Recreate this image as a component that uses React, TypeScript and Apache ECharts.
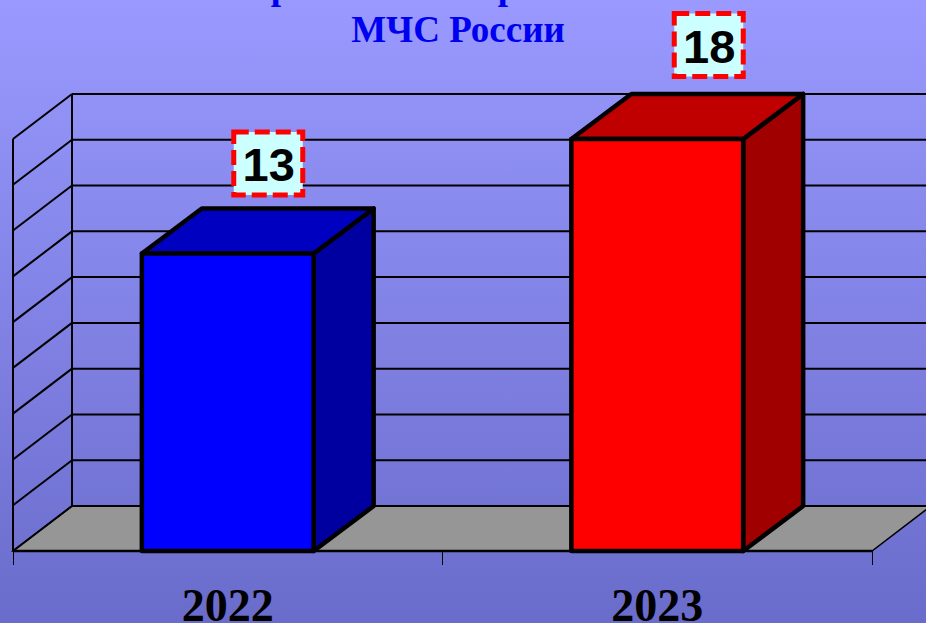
import React, { useEffect, useRef } from "react";
import * as echarts from "echarts";

const categories = ["2022", "2023"];
const values = [13, 18];
const frontColors = ["#0000ff", "#ff0000"];
const topColors = ["#0000c0", "#c00000"];
const sideColors = ["#0000a0", "#a00000"];
const gridTicks = [0, 2, 4, 6, 8, 10, 12, 14, 16, 18];
const titleText = "МЧС России";

const DX = 60;
const WALL_DX = 59;
const DY = -45;
const labelShift = [40, 51];
const labelLift = [45, 49];

export default function App() {
  const ref = useRef<HTMLDivElement>(null);
  useEffect(() => {
    const chart = echarts.init(ref.current!, null, { renderer: "svg" });
    const clippedGlyph = (x: number) => ({
      type: "text",
      x,
      y: 5,
      style: {
        text: "р",
        font: "bold 37px 'Liberation Serif'",
        fill: "#0000f0",
        textAlign: "center",
        textVerticalAlign: "bottom",
      },
    });
    chart.setOption({
      animation: false,
      backgroundColor: {
        type: "linear", x: 0, y: 0, x2: 0, y2: 1,
        colorStops: [
          { offset: 0, color: "#9999ff" },
          { offset: 1, color: "#6a6ccb" },
        ],
      },
      title: {
        text: titleText,
        left: 458,
        top: 11,
        textAlign: "center",
        padding: 0,
        textStyle: { fontFamily: "Liberation Serif", fontWeight: "bold", fontSize: 37, color: "#0000f0" },
      },
      graphic: [clippedGlyph(281), clippedGlyph(508)],
      grid: { left: 13, right: 54, top: 139, bottom: 72, outerBoundsMode: "none" },
      xAxis: {
        type: "category",
        data: categories,
        boundaryGap: true,
        axisLine: { show: false },
        axisTick: { show: true, alignWithLabel: false, length: 14, lineStyle: { color: "#000", width: 1 } },
        axisLabel: {
          margin: 31,
          fontFamily: "Liberation Serif",
          fontWeight: "bold",
          fontSize: 46,
          color: "#000",
        },
      },
      yAxis: {
        type: "value",
        min: 0,
        max: 18,
        interval: 2,
        axisLine: { show: false },
        axisTick: { show: false },
        axisLabel: { show: false },
        splitLine: { show: false },
      },
      series: [
        {
          type: "custom",
          coordinateSystem: "cartesian2d",
          clip: false,
          z: 1,
          data: [0],
          encode: { x: [], y: [] },
          renderItem: (_p: any, api: any) => {
            const [x0, y0] = api.coord([0, 0]);
            const s = api.size([1, 0]);
            const x1 = x0 - s[0] / 2;
            const x2 = x0 + s[0] * 1.5;
            const floor = {
              type: "polygon",
              shape: { points: [[x1, y0], [x1 + WALL_DX, y0 + DY], [x2 + WALL_DX, y0 + DY], [x2, y0]] },
              style: { fill: "#969696", stroke: "#000", lineWidth: 1.5 },
            };
            const lines: any[] = [floor];
            const top = api.coord([0, 18])[1];
            const seg = (a: number, b: number, c: number, d: number, w = 2) => ({
              type: "line",
              shape: { x1: a, y1: b, x2: c, y2: d },
              style: { stroke: "#000", lineWidth: w },
            });
            gridTicks.forEach((t) => {
              const y = api.coord([0, t])[1];
              lines.push(seg(x1, y, x1 + WALL_DX, y + DY));
              lines.push(seg(x1 + WALL_DX, y + DY, x2 + WALL_DX, y + DY));
            });
            lines.push(seg(x1, y0, x1, top));
            lines.push(seg(x1 + WALL_DX, y0 + DY, x1 + WALL_DX, top + DY));
            lines.push(seg(x1, y0, x2, y0, 2.5));
            return { type: "group", children: lines };
          },
        },
        {
          type: "custom",
          coordinateSystem: "cartesian2d",
          clip: false,
          z: 2,
          data: values.map((v, i) => [i, v]),
          renderItem: (_p: any, api: any) => {
            const i = api.value(0);
            const v = api.value(1);
            const [cx, yt] = api.coord([i, v]);
            const yb = api.coord([i, 0])[1];
            const w = api.size([1, 0])[0] * 0.4;
            const l = cx - w / 2;
            const r = cx + w / 2;
            const edge = { stroke: "#000", lineWidth: 4.5, lineJoin: "round" };
            const lx = cx + labelShift[i];
            const ly = yt + DY - labelLift[i];
            return {
              type: "group",
              children: [
                {
                  type: "polygon",
                  shape: { points: [[r, yt], [r + DX, yt + DY], [r + DX, yb + DY], [r, yb]] },
                  style: { fill: sideColors[i], ...edge },
                },
                {
                  type: "polygon",
                  shape: { points: [[l, yt], [l + DX, yt + DY], [r + DX, yt + DY], [r, yt]] },
                  style: { fill: topColors[i], ...edge },
                },
                {
                  type: "rect",
                  shape: { x: l, y: yt, width: w, height: yb - yt },
                  style: { fill: frontColors[i], ...edge },
                },
                {
                  type: "rect",
                  shape: { x: lx - 34, y: ly - 31.5, width: 69, height: 63 },
                  style: { fill: "#ccffff", stroke: "#ff0000", lineWidth: 5, lineDash: [15, 6] },
                },
                {
                  type: "text",
                  x: lx + 1,
                  y: ly + 1,
                  style: {
                    text: String(v),
                    fill: "#000",
                    font: "bold 47px 'Liberation Sans'",
                    textAlign: "center",
                    textVerticalAlign: "middle",
                  },
                },
              ],
            };
          },
        },
      ],
    });
    return () => chart.dispose();
  }, []);
  return <div ref={ref} style={{ position: "absolute", left: 0, top: 0, width: 926, height: 623 }} />;
}
